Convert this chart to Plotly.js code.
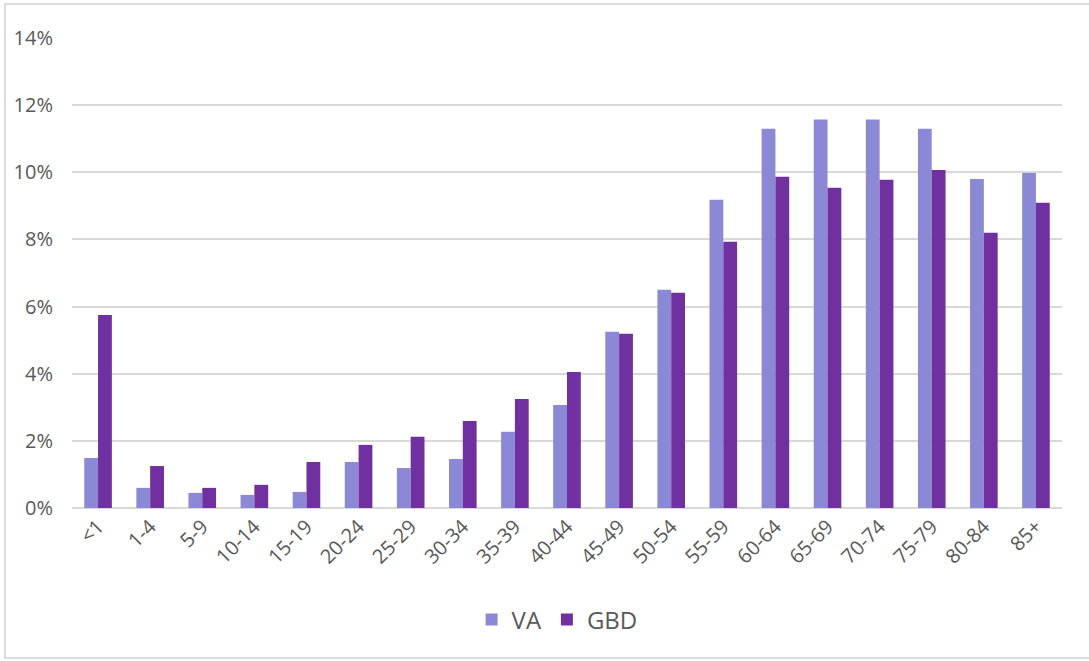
<!DOCTYPE html>
<html>
<head>
<meta charset="utf-8">
<script src="https://cdn.plot.ly/plotly-3.0.1.min.js"></script>
<style>
  html, body { margin: 0; padding: 0; background: #fff; }
  #frame { position: absolute; left: 4px; top: 3px; width: 1085px; height: 656px;
           border-left: 2px solid #dcdcdc; border-top: 2px solid #dcdcdc; border-bottom: 2px solid #dcdcdc; box-sizing: border-box; }
  #chart { position: absolute; left: 0; top: 0; width: 1089px; height: 661px; }
</style>
</head>
<body>
<div id="frame"></div>
<div id="chart"></div>
<script>
var ageGroups = ['<1', '1-4', '5-9', '10-14', '15-19', '20-24', '25-29', '30-34', '35-39', '40-44',
                 '45-49', '50-54', '55-59', '60-64', '65-69', '70-74', '75-79', '80-84', '85+'];
var vaShare  = [1.49, 0.60, 0.45, 0.39, 0.48, 1.37, 1.19, 1.46, 2.27, 3.07,
                5.25, 6.50, 9.18, 11.30, 11.57, 11.57, 11.30, 9.80, 9.98];
var gbdShare = [5.75, 1.25, 0.60, 0.69, 1.37, 1.88, 2.12, 2.59, 3.25, 4.05,
                5.19, 6.41, 7.93, 9.87, 9.54, 9.78, 10.07, 8.20, 9.09];
var yTicks = [0, 2, 4, 6, 8, 10, 12, 14];

var textColor = '#595959';

var traceVA = {
    x: ageGroups,
    y: vaShare,
    name: 'VA',
    type: 'bar',
    marker: { color: '#8b89d6' }
};

var traceGBD = {
    x: ageGroups,
    y: gbdShare,
    name: 'GBD',
    type: 'bar',
    marker: { color: '#7030a0' }
};

var layout = {
    width: 1089,
    height: 661,
    margin: { l: 72, r: 27, t: 38, b: 153 },
    paper_bgcolor: 'rgba(0,0,0,0)',
    plot_bgcolor: 'rgba(0,0,0,0)',
    font: { family: 'Open Sans, sans-serif', size: 20, color: textColor },
    barmode: 'group',
    bargap: 0.47,
    bargroupgap: 0,
    showlegend: true,
    legend: {
        orientation: 'h',
        x: 0.49, xanchor: 'center',
        y: -0.238, yanchor: 'middle',
        font: { size: 24, color: textColor },
        itemwidth: 30,
        traceorder: 'normal'
    },
    xaxis: {
        type: 'category',
        tickangle: -45,
        tickfont: { size: 20, color: textColor },
        showgrid: false,
        showline: false,
        ticks: '',
        zeroline: false,
        ticklabelstandoff: 2
    },
    yaxis: {
        range: [0, 14],
        tickvals: yTicks,
        ticktext: yTicks.map(function (v) { return v + '%'; }),
        tickfont: { size: 20, color: textColor },
        gridcolor: '#d9d9d9',
        gridwidth: 2,
        zeroline: true,
        zerolinecolor: '#d9d9d9',
        zerolinewidth: 2,
        showline: false,
        ticks: '',
        ticklabelstandoff: 18,
        fixedrange: true
    }
};

Plotly.newPlot('chart', [traceVA, traceGBD], layout, { displayModeBar: false, staticPlot: true });
</script>
</body>
</html>
